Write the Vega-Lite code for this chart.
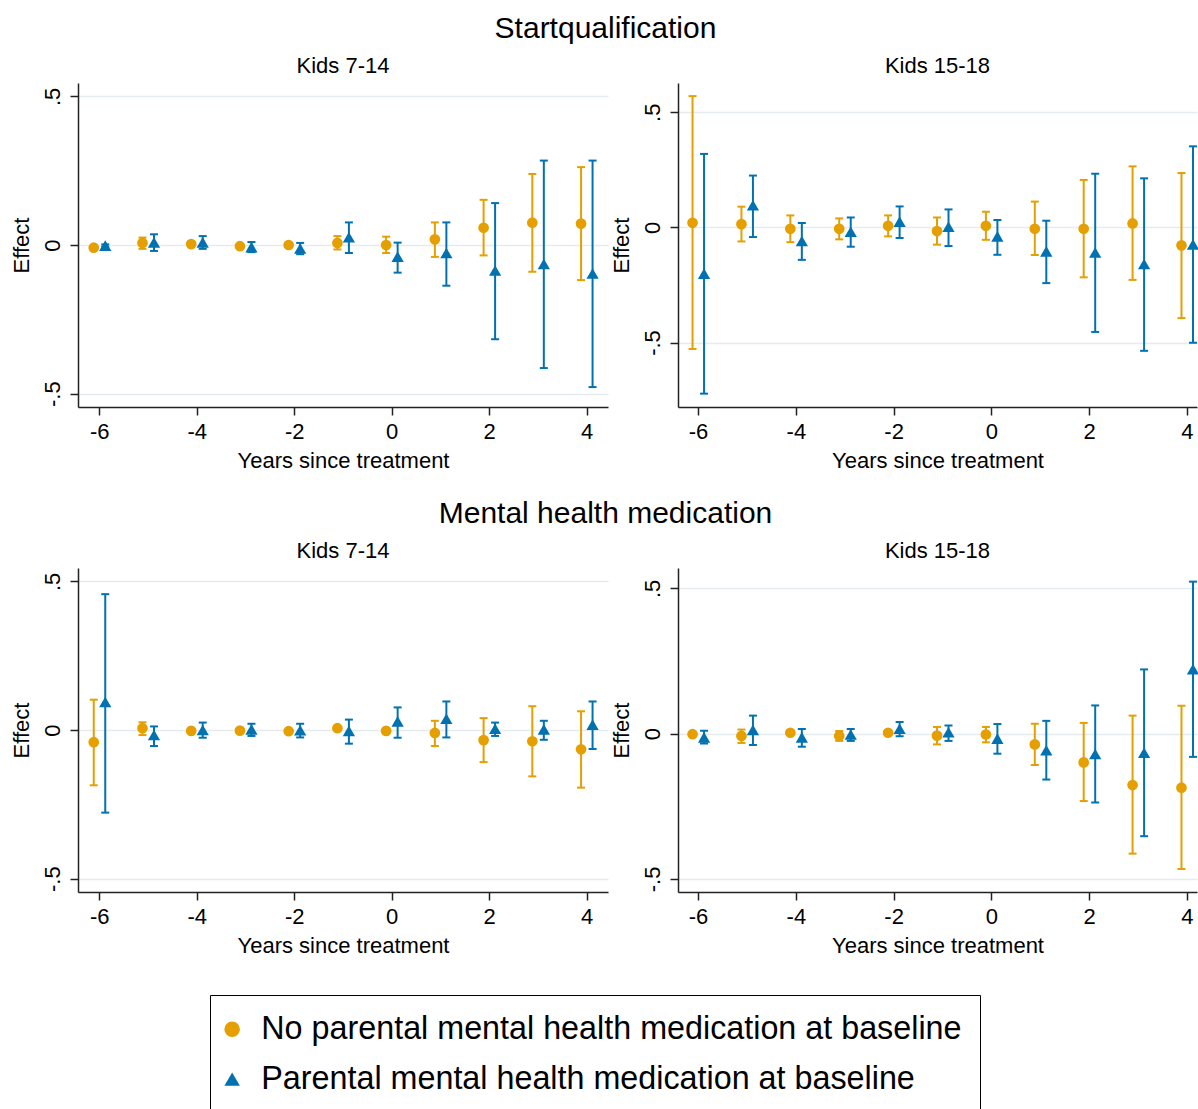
{
  "$schema": "https://vega.github.io/schema/vega-lite/v6.json",
  "background": "white",
  "padding": {"left": 10, "top": 14, "right": 0, "bottom": 0},
  "datasets": {
    "d": [
      {"o":"SQ","a":"7-14","g":"No","t":-6,"e":-0.009,"lo":-0.015,"hi":-0.003},
      {"o":"SQ","a":"7-14","g":"No","t":-5,"e":0.007,"lo":-0.013,"hi":0.025},
      {"o":"SQ","a":"7-14","g":"No","t":-4,"e":0.003,"lo":-0.003,"hi":0.009},
      {"o":"SQ","a":"7-14","g":"No","t":-3,"e":-0.004,"lo":-0.009,"hi":0.001},
      {"o":"SQ","a":"7-14","g":"No","t":-2,"e":0.0,"lo":-0.006,"hi":0.006},
      {"o":"SQ","a":"7-14","g":"No","t":-1,"e":0.007,"lo":-0.015,"hi":0.030},
      {"o":"SQ","a":"7-14","g":"No","t":0,"e":0.0,"lo":-0.027,"hi":0.028},
      {"o":"SQ","a":"7-14","g":"No","t":1,"e":0.019,"lo":-0.040,"hi":0.076},
      {"o":"SQ","a":"7-14","g":"No","t":2,"e":0.058,"lo":-0.035,"hi":0.152},
      {"o":"SQ","a":"7-14","g":"No","t":3,"e":0.075,"lo":-0.090,"hi":0.239},
      {"o":"SQ","a":"7-14","g":"No","t":4,"e":0.072,"lo":-0.118,"hi":0.262},
      {"o":"SQ","a":"7-14","g":"Yes","t":-6,"e":-0.002,"lo":-0.006,"hi":0.002},
      {"o":"SQ","a":"7-14","g":"Yes","t":-5,"e":0.009,"lo":-0.020,"hi":0.036},
      {"o":"SQ","a":"7-14","g":"Yes","t":-4,"e":0.009,"lo":-0.013,"hi":0.030},
      {"o":"SQ","a":"7-14","g":"Yes","t":-3,"e":-0.007,"lo":-0.024,"hi":0.010},
      {"o":"SQ","a":"7-14","g":"Yes","t":-2,"e":-0.012,"lo":-0.031,"hi":0.007},
      {"o":"SQ","a":"7-14","g":"Yes","t":-1,"e":0.026,"lo":-0.027,"hi":0.076},
      {"o":"SQ","a":"7-14","g":"Yes","t":0,"e":-0.039,"lo":-0.093,"hi":0.008},
      {"o":"SQ","a":"7-14","g":"Yes","t":1,"e":-0.027,"lo":-0.137,"hi":0.076},
      {"o":"SQ","a":"7-14","g":"Yes","t":2,"e":-0.086,"lo":-0.317,"hi":0.141},
      {"o":"SQ","a":"7-14","g":"Yes","t":3,"e":-0.064,"lo":-0.414,"hi":0.284},
      {"o":"SQ","a":"7-14","g":"Yes","t":4,"e":-0.096,"lo":-0.478,"hi":0.284},
      {"o":"SQ","a":"15-18","g":"No","t":-6,"e":0.020,"lo":-0.528,"hi":0.570},
      {"o":"SQ","a":"15-18","g":"No","t":-5,"e":0.014,"lo":-0.061,"hi":0.090},
      {"o":"SQ","a":"15-18","g":"No","t":-4,"e":-0.006,"lo":-0.064,"hi":0.052},
      {"o":"SQ","a":"15-18","g":"No","t":-3,"e":-0.006,"lo":-0.052,"hi":0.039},
      {"o":"SQ","a":"15-18","g":"No","t":-2,"e":0.007,"lo":-0.039,"hi":0.052},
      {"o":"SQ","a":"15-18","g":"No","t":-1,"e":-0.016,"lo":-0.075,"hi":0.043},
      {"o":"SQ","a":"15-18","g":"No","t":0,"e":0.007,"lo":-0.054,"hi":0.068},
      {"o":"SQ","a":"15-18","g":"No","t":1,"e":-0.006,"lo":-0.120,"hi":0.112},
      {"o":"SQ","a":"15-18","g":"No","t":2,"e":-0.006,"lo":-0.217,"hi":0.206},
      {"o":"SQ","a":"15-18","g":"No","t":3,"e":0.017,"lo":-0.228,"hi":0.265},
      {"o":"SQ","a":"15-18","g":"No","t":4,"e":-0.078,"lo":-0.394,"hi":0.236},
      {"o":"SQ","a":"15-18","g":"Yes","t":-6,"e":-0.201,"lo":-0.722,"hi":0.319},
      {"o":"SQ","a":"15-18","g":"Yes","t":-5,"e":0.096,"lo":-0.042,"hi":0.225},
      {"o":"SQ","a":"15-18","g":"Yes","t":-4,"e":-0.059,"lo":-0.141,"hi":0.019},
      {"o":"SQ","a":"15-18","g":"Yes","t":-3,"e":-0.019,"lo":-0.084,"hi":0.043},
      {"o":"SQ","a":"15-18","g":"Yes","t":-2,"e":0.025,"lo":-0.046,"hi":0.091},
      {"o":"SQ","a":"15-18","g":"Yes","t":-1,"e":0.003,"lo":-0.081,"hi":0.078},
      {"o":"SQ","a":"15-18","g":"Yes","t":0,"e":-0.039,"lo":-0.119,"hi":0.032},
      {"o":"SQ","a":"15-18","g":"Yes","t":1,"e":-0.104,"lo":-0.242,"hi":0.029},
      {"o":"SQ","a":"15-18","g":"Yes","t":2,"e":-0.109,"lo":-0.454,"hi":0.233},
      {"o":"SQ","a":"15-18","g":"Yes","t":3,"e":-0.159,"lo":-0.536,"hi":0.213},
      {"o":"SQ","a":"15-18","g":"Yes","t":4,"e":-0.074,"lo":-0.501,"hi":0.352},
      {"o":"MH","a":"7-14","g":"No","t":-6,"e":-0.041,"lo":-0.186,"hi":0.102},
      {"o":"MH","a":"7-14","g":"No","t":-5,"e":0.006,"lo":-0.017,"hi":0.026},
      {"o":"MH","a":"7-14","g":"No","t":-4,"e":-0.003,"lo":-0.008,"hi":0.002},
      {"o":"MH","a":"7-14","g":"No","t":-3,"e":-0.002,"lo":-0.007,"hi":0.003},
      {"o":"MH","a":"7-14","g":"No","t":-2,"e":-0.004,"lo":-0.007,"hi":-0.001},
      {"o":"MH","a":"7-14","g":"No","t":-1,"e":0.006,"lo":0.001,"hi":0.011},
      {"o":"MH","a":"7-14","g":"No","t":0,"e":-0.003,"lo":-0.008,"hi":0.002},
      {"o":"MH","a":"7-14","g":"No","t":1,"e":-0.010,"lo":-0.054,"hi":0.031},
      {"o":"MH","a":"7-14","g":"No","t":2,"e":-0.034,"lo":-0.108,"hi":0.040},
      {"o":"MH","a":"7-14","g":"No","t":3,"e":-0.038,"lo":-0.156,"hi":0.080},
      {"o":"MH","a":"7-14","g":"No","t":4,"e":-0.065,"lo":-0.194,"hi":0.063},
      {"o":"MH","a":"7-14","g":"Yes","t":-6,"e":0.094,"lo":-0.278,"hi":0.457},
      {"o":"MH","a":"7-14","g":"Yes","t":-5,"e":-0.017,"lo":-0.054,"hi":0.012},
      {"o":"MH","a":"7-14","g":"Yes","t":-4,"e":0.0,"lo":-0.026,"hi":0.025},
      {"o":"MH","a":"7-14","g":"Yes","t":-3,"e":0.002,"lo":-0.020,"hi":0.021},
      {"o":"MH","a":"7-14","g":"Yes","t":-2,"e":-0.001,"lo":-0.025,"hi":0.021},
      {"o":"MH","a":"7-14","g":"Yes","t":-1,"e":-0.003,"lo":-0.046,"hi":0.035},
      {"o":"MH","a":"7-14","g":"Yes","t":0,"e":0.029,"lo":-0.026,"hi":0.076},
      {"o":"MH","a":"7-14","g":"Yes","t":1,"e":0.038,"lo":-0.025,"hi":0.096},
      {"o":"MH","a":"7-14","g":"Yes","t":2,"e":0.004,"lo":-0.020,"hi":0.025},
      {"o":"MH","a":"7-14","g":"Yes","t":3,"e":0.002,"lo":-0.033,"hi":0.031},
      {"o":"MH","a":"7-14","g":"Yes","t":4,"e":0.018,"lo":-0.064,"hi":0.096},
      {"o":"MH","a":"15-18","g":"No","t":-6,"e":-0.002,"lo":-0.006,"hi":0.002},
      {"o":"MH","a":"15-18","g":"No","t":-5,"e":-0.008,"lo":-0.032,"hi":0.014},
      {"o":"MH","a":"15-18","g":"No","t":-4,"e":0.003,"lo":-0.002,"hi":0.008},
      {"o":"MH","a":"15-18","g":"No","t":-3,"e":-0.008,"lo":-0.025,"hi":0.009},
      {"o":"MH","a":"15-18","g":"No","t":-2,"e":0.003,"lo":-0.002,"hi":0.008},
      {"o":"MH","a":"15-18","g":"No","t":-1,"e":-0.007,"lo":-0.037,"hi":0.023},
      {"o":"MH","a":"15-18","g":"No","t":0,"e":-0.003,"lo":-0.030,"hi":0.023},
      {"o":"MH","a":"15-18","g":"No","t":1,"e":-0.037,"lo":-0.108,"hi":0.034},
      {"o":"MH","a":"15-18","g":"No","t":2,"e":-0.099,"lo":-0.232,"hi":0.037},
      {"o":"MH","a":"15-18","g":"No","t":3,"e":-0.177,"lo":-0.413,"hi":0.062},
      {"o":"MH","a":"15-18","g":"No","t":4,"e":-0.186,"lo":-0.466,"hi":0.096},
      {"o":"MH","a":"15-18","g":"Yes","t":-6,"e":-0.013,"lo":-0.034,"hi":0.010},
      {"o":"MH","a":"15-18","g":"Yes","t":-5,"e":0.013,"lo":-0.039,"hi":0.062},
      {"o":"MH","a":"15-18","g":"Yes","t":-4,"e":-0.013,"lo":-0.045,"hi":0.016},
      {"o":"MH","a":"15-18","g":"Yes","t":-3,"e":-0.003,"lo":-0.025,"hi":0.016},
      {"o":"MH","a":"15-18","g":"Yes","t":-2,"e":0.017,"lo":-0.009,"hi":0.040},
      {"o":"MH","a":"15-18","g":"Yes","t":-1,"e":0.005,"lo":-0.025,"hi":0.028},
      {"o":"MH","a":"15-18","g":"Yes","t":0,"e":-0.017,"lo":-0.069,"hi":0.033},
      {"o":"MH","a":"15-18","g":"Yes","t":1,"e":-0.057,"lo":-0.158,"hi":0.044},
      {"o":"MH","a":"15-18","g":"Yes","t":2,"e":-0.070,"lo":-0.237,"hi":0.097},
      {"o":"MH","a":"15-18","g":"Yes","t":3,"e":-0.066,"lo":-0.353,"hi":0.221},
      {"o":"MH","a":"15-18","g":"Yes","t":4,"e":0.222,"lo":-0.080,"hi":0.523}
    ]
  },
  "vconcat": [
    {
      "title": {"text": "Startqualification", "fontSize": 30, "anchor": "middle", "offset": 11},
      "spacing": 2,
      "hconcat": [
        {
          "width": 530, "height": 324,
          "title": "Kids 7-14",
          "encoding": {
            "x": {"field": "t", "type": "quantitative", "scale": {"domain": [-6.436, 4.44], "nice": false, "zero": false}, "axis": {"title": "Years since treatment"}},
            "y": {"field": "e", "type": "quantitative", "scale": {"domain": [-0.545, 0.545], "nice": false, "zero": false}, "axis": {"title": "Effect"}}
          },
          "layer": [
            {"data": {"values": [{}]}, "mark": {"type": "rule", "strokeWidth": 2, "color": "#CC1443"}, "encoding": {"x": {"datum": -6.436, "type": "quantitative"}, "x2": {"datum": 4.44}, "y": {"datum": 0, "type": "quantitative"}}},
            {"data": {"name": "d"}, "transform": [{"filter": "datum.o == 'SQ' && datum.a == '7-14' && datum.g == 'No'"}],
             "layer": [
              {"mark": {"type": "rule", "strokeWidth": 2, "xOffset": -5.5, "color": "#E69F00"}, "encoding": {"y": {"field": "lo", "type": "quantitative"}, "y2": {"field": "hi"}}},
              {"mark": {"type": "point", "shape": "M-1,0H1", "size": 64, "filled": false, "strokeWidth": 2, "opacity": 1, "xOffset": -5.5, "color": "#E69F00"}, "encoding": {"y": {"field": "lo", "type": "quantitative"}}},
              {"mark": {"type": "point", "shape": "M-1,0H1", "size": 64, "filled": false, "strokeWidth": 2, "opacity": 1, "xOffset": -5.5, "color": "#E69F00"}, "encoding": {"y": {"field": "hi", "type": "quantitative"}}},
              {"mark": {"type": "point", "filled": true, "opacity": 1, "size": 115, "xOffset": -5.5},
               "encoding": {
                 "color": {"field": "g", "type": "nominal", "scale": {"domain": ["No", "Yes"], "range": ["#E69F00", "#0072B2"]}, "legend": {"title": null, "labelExpr": "datum.label == 'No' ? 'No parental mental health medication at baseline\u00a0\u00a0\u00a0\u00a0' : 'Parental mental health medication at baseline'"}},
                 "shape": {"field": "g", "type": "nominal", "scale": {"domain": ["No", "Yes"], "range": ["circle", "triangle-up"]}, "legend": {"title": null, "labelExpr": "datum.label == 'No' ? 'No parental mental health medication at baseline\u00a0\u00a0\u00a0\u00a0' : 'Parental mental health medication at baseline'"}}
               }}
            ]},
            {"data": {"name": "d"}, "transform": [{"filter": "datum.o == 'SQ' && datum.a == '7-14' && datum.g == 'Yes'"}],
             "layer": [
              {"mark": {"type": "rule", "strokeWidth": 2, "xOffset": 6, "color": "#0072B2"}, "encoding": {"y": {"field": "lo", "type": "quantitative"}, "y2": {"field": "hi"}}},
              {"mark": {"type": "point", "shape": "M-1,0H1", "size": 64, "filled": false, "strokeWidth": 2, "opacity": 1, "xOffset": 6, "color": "#0072B2"}, "encoding": {"y": {"field": "lo", "type": "quantitative"}}},
              {"mark": {"type": "point", "shape": "M-1,0H1", "size": 64, "filled": false, "strokeWidth": 2, "opacity": 1, "xOffset": 6, "color": "#0072B2"}, "encoding": {"y": {"field": "hi", "type": "quantitative"}}},
              {"mark": {"type": "point", "filled": true, "opacity": 1, "size": 150, "xOffset": 6},
               "encoding": {
                 "color": {"field": "g", "type": "nominal", "scale": {"domain": ["No", "Yes"], "range": ["#E69F00", "#0072B2"]}, "legend": {"title": null, "labelExpr": "datum.label == 'No' ? 'No parental mental health medication at baseline\u00a0\u00a0\u00a0\u00a0' : 'Parental mental health medication at baseline'"}},
                 "shape": {"field": "g", "type": "nominal", "scale": {"domain": ["No", "Yes"], "range": ["circle", "triangle-up"]}, "legend": {"title": null, "labelExpr": "datum.label == 'No' ? 'No parental mental health medication at baseline\u00a0\u00a0\u00a0\u00a0' : 'Parental mental health medication at baseline'"}}
               }}
            ]}
          ]
        },
        {
          "width": 519, "height": 324,
          "title": "Kids 15-18",
          "encoding": {
            "x": {"field": "t", "type": "quantitative", "scale": {"domain": [-6.41, 4.205], "nice": false, "zero": false}, "axis": {"title": "Years since treatment"}},
            "y": {"field": "e", "type": "quantitative", "scale": {"domain": [-0.78, 0.627], "nice": false, "zero": false}, "axis": {"title": "Effect"}}
          },
          "layer": [
            {"data": {"values": [{}]}, "mark": {"type": "rule", "strokeWidth": 2, "color": "#CC1443"}, "encoding": {"x": {"datum": -6.41, "type": "quantitative"}, "x2": {"datum": 4.205}, "y": {"datum": 0, "type": "quantitative"}}},
            {"data": {"name": "d"}, "transform": [{"filter": "datum.o == 'SQ' && datum.a == '15-18' && datum.g == 'No'"}],
             "layer": [
              {"mark": {"type": "rule", "strokeWidth": 2, "xOffset": -5.5, "color": "#E69F00"}, "encoding": {"y": {"field": "lo", "type": "quantitative"}, "y2": {"field": "hi"}}},
              {"mark": {"type": "point", "shape": "M-1,0H1", "size": 64, "filled": false, "strokeWidth": 2, "opacity": 1, "xOffset": -5.5, "color": "#E69F00"}, "encoding": {"y": {"field": "lo", "type": "quantitative"}}},
              {"mark": {"type": "point", "shape": "M-1,0H1", "size": 64, "filled": false, "strokeWidth": 2, "opacity": 1, "xOffset": -5.5, "color": "#E69F00"}, "encoding": {"y": {"field": "hi", "type": "quantitative"}}},
              {"mark": {"type": "point", "filled": true, "opacity": 1, "size": 115, "xOffset": -5.5},
               "encoding": {
                 "color": {"field": "g", "type": "nominal", "scale": {"domain": ["No", "Yes"], "range": ["#E69F00", "#0072B2"]}, "legend": {"title": null, "labelExpr": "datum.label == 'No' ? 'No parental mental health medication at baseline\u00a0\u00a0\u00a0\u00a0' : 'Parental mental health medication at baseline'"}},
                 "shape": {"field": "g", "type": "nominal", "scale": {"domain": ["No", "Yes"], "range": ["circle", "triangle-up"]}, "legend": {"title": null, "labelExpr": "datum.label == 'No' ? 'No parental mental health medication at baseline\u00a0\u00a0\u00a0\u00a0' : 'Parental mental health medication at baseline'"}}
               }}
            ]},
            {"data": {"name": "d"}, "transform": [{"filter": "datum.o == 'SQ' && datum.a == '15-18' && datum.g == 'Yes'"}],
             "layer": [
              {"mark": {"type": "rule", "strokeWidth": 2, "xOffset": 6, "color": "#0072B2"}, "encoding": {"y": {"field": "lo", "type": "quantitative"}, "y2": {"field": "hi"}}},
              {"mark": {"type": "point", "shape": "M-1,0H1", "size": 64, "filled": false, "strokeWidth": 2, "opacity": 1, "xOffset": 6, "color": "#0072B2"}, "encoding": {"y": {"field": "lo", "type": "quantitative"}}},
              {"mark": {"type": "point", "shape": "M-1,0H1", "size": 64, "filled": false, "strokeWidth": 2, "opacity": 1, "xOffset": 6, "color": "#0072B2"}, "encoding": {"y": {"field": "hi", "type": "quantitative"}}},
              {"mark": {"type": "point", "filled": true, "opacity": 1, "size": 150, "xOffset": 6},
               "encoding": {
                 "color": {"field": "g", "type": "nominal", "scale": {"domain": ["No", "Yes"], "range": ["#E69F00", "#0072B2"]}, "legend": {"title": null, "labelExpr": "datum.label == 'No' ? 'No parental mental health medication at baseline\u00a0\u00a0\u00a0\u00a0' : 'Parental mental health medication at baseline'"}},
                 "shape": {"field": "g", "type": "nominal", "scale": {"domain": ["No", "Yes"], "range": ["circle", "triangle-up"]}, "legend": {"title": null, "labelExpr": "datum.label == 'No' ? 'No parental mental health medication at baseline\u00a0\u00a0\u00a0\u00a0' : 'Parental mental health medication at baseline'"}}
               }}
            ]}
          ]
        }
      ]
    },
    {
      "title": {"text": "Mental health medication", "fontSize": 30, "anchor": "middle", "offset": 11},
      "spacing": 2,
      "hconcat": [
        {
          "width": 530, "height": 324,
          "title": "Kids 7-14",
          "encoding": {
            "x": {"field": "t", "type": "quantitative", "scale": {"domain": [-6.436, 4.44], "nice": false, "zero": false}, "axis": {"title": "Years since treatment"}},
            "y": {"field": "e", "type": "quantitative", "scale": {"domain": [-0.545, 0.545], "nice": false, "zero": false}, "axis": {"title": "Effect"}}
          },
          "layer": [
            {"data": {"values": [{}]}, "mark": {"type": "rule", "strokeWidth": 2, "color": "#CC1443"}, "encoding": {"x": {"datum": -6.436, "type": "quantitative"}, "x2": {"datum": 4.44}, "y": {"datum": 0, "type": "quantitative"}}},
            {"data": {"name": "d"}, "transform": [{"filter": "datum.o == 'MH' && datum.a == '7-14' && datum.g == 'No'"}],
             "layer": [
              {"mark": {"type": "rule", "strokeWidth": 2, "xOffset": -5.5, "color": "#E69F00"}, "encoding": {"y": {"field": "lo", "type": "quantitative"}, "y2": {"field": "hi"}}},
              {"mark": {"type": "point", "shape": "M-1,0H1", "size": 64, "filled": false, "strokeWidth": 2, "opacity": 1, "xOffset": -5.5, "color": "#E69F00"}, "encoding": {"y": {"field": "lo", "type": "quantitative"}}},
              {"mark": {"type": "point", "shape": "M-1,0H1", "size": 64, "filled": false, "strokeWidth": 2, "opacity": 1, "xOffset": -5.5, "color": "#E69F00"}, "encoding": {"y": {"field": "hi", "type": "quantitative"}}},
              {"mark": {"type": "point", "filled": true, "opacity": 1, "size": 115, "xOffset": -5.5},
               "encoding": {
                 "color": {"field": "g", "type": "nominal", "scale": {"domain": ["No", "Yes"], "range": ["#E69F00", "#0072B2"]}, "legend": {"title": null, "labelExpr": "datum.label == 'No' ? 'No parental mental health medication at baseline\u00a0\u00a0\u00a0\u00a0' : 'Parental mental health medication at baseline'"}},
                 "shape": {"field": "g", "type": "nominal", "scale": {"domain": ["No", "Yes"], "range": ["circle", "triangle-up"]}, "legend": {"title": null, "labelExpr": "datum.label == 'No' ? 'No parental mental health medication at baseline\u00a0\u00a0\u00a0\u00a0' : 'Parental mental health medication at baseline'"}}
               }}
            ]},
            {"data": {"name": "d"}, "transform": [{"filter": "datum.o == 'MH' && datum.a == '7-14' && datum.g == 'Yes'"}],
             "layer": [
              {"mark": {"type": "rule", "strokeWidth": 2, "xOffset": 6, "color": "#0072B2"}, "encoding": {"y": {"field": "lo", "type": "quantitative"}, "y2": {"field": "hi"}}},
              {"mark": {"type": "point", "shape": "M-1,0H1", "size": 64, "filled": false, "strokeWidth": 2, "opacity": 1, "xOffset": 6, "color": "#0072B2"}, "encoding": {"y": {"field": "lo", "type": "quantitative"}}},
              {"mark": {"type": "point", "shape": "M-1,0H1", "size": 64, "filled": false, "strokeWidth": 2, "opacity": 1, "xOffset": 6, "color": "#0072B2"}, "encoding": {"y": {"field": "hi", "type": "quantitative"}}},
              {"mark": {"type": "point", "filled": true, "opacity": 1, "size": 150, "xOffset": 6},
               "encoding": {
                 "color": {"field": "g", "type": "nominal", "scale": {"domain": ["No", "Yes"], "range": ["#E69F00", "#0072B2"]}, "legend": {"title": null, "labelExpr": "datum.label == 'No' ? 'No parental mental health medication at baseline\u00a0\u00a0\u00a0\u00a0' : 'Parental mental health medication at baseline'"}},
                 "shape": {"field": "g", "type": "nominal", "scale": {"domain": ["No", "Yes"], "range": ["circle", "triangle-up"]}, "legend": {"title": null, "labelExpr": "datum.label == 'No' ? 'No parental mental health medication at baseline\u00a0\u00a0\u00a0\u00a0' : 'Parental mental health medication at baseline'"}}
               }}
            ]}
          ]
        },
        {
          "width": 519, "height": 324,
          "title": "Kids 15-18",
          "encoding": {
            "x": {"field": "t", "type": "quantitative", "scale": {"domain": [-6.41, 4.205], "nice": false, "zero": false}, "axis": {"title": "Years since treatment"}},
            "y": {"field": "e", "type": "quantitative", "scale": {"domain": [-0.545, 0.57], "nice": false, "zero": false}, "axis": {"title": "Effect"}}
          },
          "layer": [
            {"data": {"values": [{}]}, "mark": {"type": "rule", "strokeWidth": 2, "color": "#CC1443"}, "encoding": {"x": {"datum": -6.41, "type": "quantitative"}, "x2": {"datum": 4.205}, "y": {"datum": 0, "type": "quantitative"}}},
            {"data": {"name": "d"}, "transform": [{"filter": "datum.o == 'MH' && datum.a == '15-18' && datum.g == 'No'"}],
             "layer": [
              {"mark": {"type": "rule", "strokeWidth": 2, "xOffset": -5.5, "color": "#E69F00"}, "encoding": {"y": {"field": "lo", "type": "quantitative"}, "y2": {"field": "hi"}}},
              {"mark": {"type": "point", "shape": "M-1,0H1", "size": 64, "filled": false, "strokeWidth": 2, "opacity": 1, "xOffset": -5.5, "color": "#E69F00"}, "encoding": {"y": {"field": "lo", "type": "quantitative"}}},
              {"mark": {"type": "point", "shape": "M-1,0H1", "size": 64, "filled": false, "strokeWidth": 2, "opacity": 1, "xOffset": -5.5, "color": "#E69F00"}, "encoding": {"y": {"field": "hi", "type": "quantitative"}}},
              {"mark": {"type": "point", "filled": true, "opacity": 1, "size": 115, "xOffset": -5.5},
               "encoding": {
                 "color": {"field": "g", "type": "nominal", "scale": {"domain": ["No", "Yes"], "range": ["#E69F00", "#0072B2"]}, "legend": {"title": null, "labelExpr": "datum.label == 'No' ? 'No parental mental health medication at baseline\u00a0\u00a0\u00a0\u00a0' : 'Parental mental health medication at baseline'"}},
                 "shape": {"field": "g", "type": "nominal", "scale": {"domain": ["No", "Yes"], "range": ["circle", "triangle-up"]}, "legend": {"title": null, "labelExpr": "datum.label == 'No' ? 'No parental mental health medication at baseline\u00a0\u00a0\u00a0\u00a0' : 'Parental mental health medication at baseline'"}}
               }}
            ]},
            {"data": {"name": "d"}, "transform": [{"filter": "datum.o == 'MH' && datum.a == '15-18' && datum.g == 'Yes'"}],
             "layer": [
              {"mark": {"type": "rule", "strokeWidth": 2, "xOffset": 6, "color": "#0072B2"}, "encoding": {"y": {"field": "lo", "type": "quantitative"}, "y2": {"field": "hi"}}},
              {"mark": {"type": "point", "shape": "M-1,0H1", "size": 64, "filled": false, "strokeWidth": 2, "opacity": 1, "xOffset": 6, "color": "#0072B2"}, "encoding": {"y": {"field": "lo", "type": "quantitative"}}},
              {"mark": {"type": "point", "shape": "M-1,0H1", "size": 64, "filled": false, "strokeWidth": 2, "opacity": 1, "xOffset": 6, "color": "#0072B2"}, "encoding": {"y": {"field": "hi", "type": "quantitative"}}},
              {"mark": {"type": "point", "filled": true, "opacity": 1, "size": 150, "xOffset": 6},
               "encoding": {
                 "color": {"field": "g", "type": "nominal", "scale": {"domain": ["No", "Yes"], "range": ["#E69F00", "#0072B2"]}, "legend": {"title": null, "labelExpr": "datum.label == 'No' ? 'No parental mental health medication at baseline\u00a0\u00a0\u00a0\u00a0' : 'Parental mental health medication at baseline'"}},
                 "shape": {"field": "g", "type": "nominal", "scale": {"domain": ["No", "Yes"], "range": ["circle", "triangle-up"]}, "legend": {"title": null, "labelExpr": "datum.label == 'No' ? 'No parental mental health medication at baseline\u00a0\u00a0\u00a0\u00a0' : 'Parental mental health medication at baseline'"}}
               }}
            ]}
          ]
        }
      ]
    }
  ],
  "spacing": 28,
  "config": {
    "font": "Liberation Sans",
    "view": {"stroke": null},
    "title": {"fontSize": 22, "fontWeight": "normal", "color": "black", "offset": 5},
    "axis": {
      "labelFontSize": 22, "titleFontSize": 22, "titleFontWeight": "normal",
      "labelColor": "black", "titleColor": "black",
      "domainColor": "#222", "tickColor": "#222", "domainWidth": 1.5, "tickWidth": 1.5, "tickSize": 8,
      "gridColor": "#e4ecf0", "gridWidth": 1.5
    },
    "axisX": {"grid": false, "tickCount": 6, "labelPadding": 6, "titlePadding": 8, "labelExpr": "'' + datum.value", "labelFlush": false, "labelOverlap": false},
    "axisY": {"grid": true, "tickCount": 3, "labelAngle": 270, "labelAlign": "center", "labelBaseline": "alphabetic", "labelPadding": 11, "titlePadding": 8, "labelExpr": "datum.value == 0 ? '0' : (datum.value > 0 ? '.5' : '-.5')", "labelFlush": false, "labelOverlap": false},
    "legend": {
      "orient": "none", "legendX": 132, "legendY": 912,
      "labelFontSize": 32.3, "labelColor": "black", "labelLimit": 900,
      "symbolSize": 240, "symbolOpacity": 1, "symbolStrokeWidth": 0,
      "padding": 18, "strokeColor": "black", "rowPadding": 17, "labelOffset": 13, "symbolOffset": -12,
      "direction": "vertical"
    }
  }
}
